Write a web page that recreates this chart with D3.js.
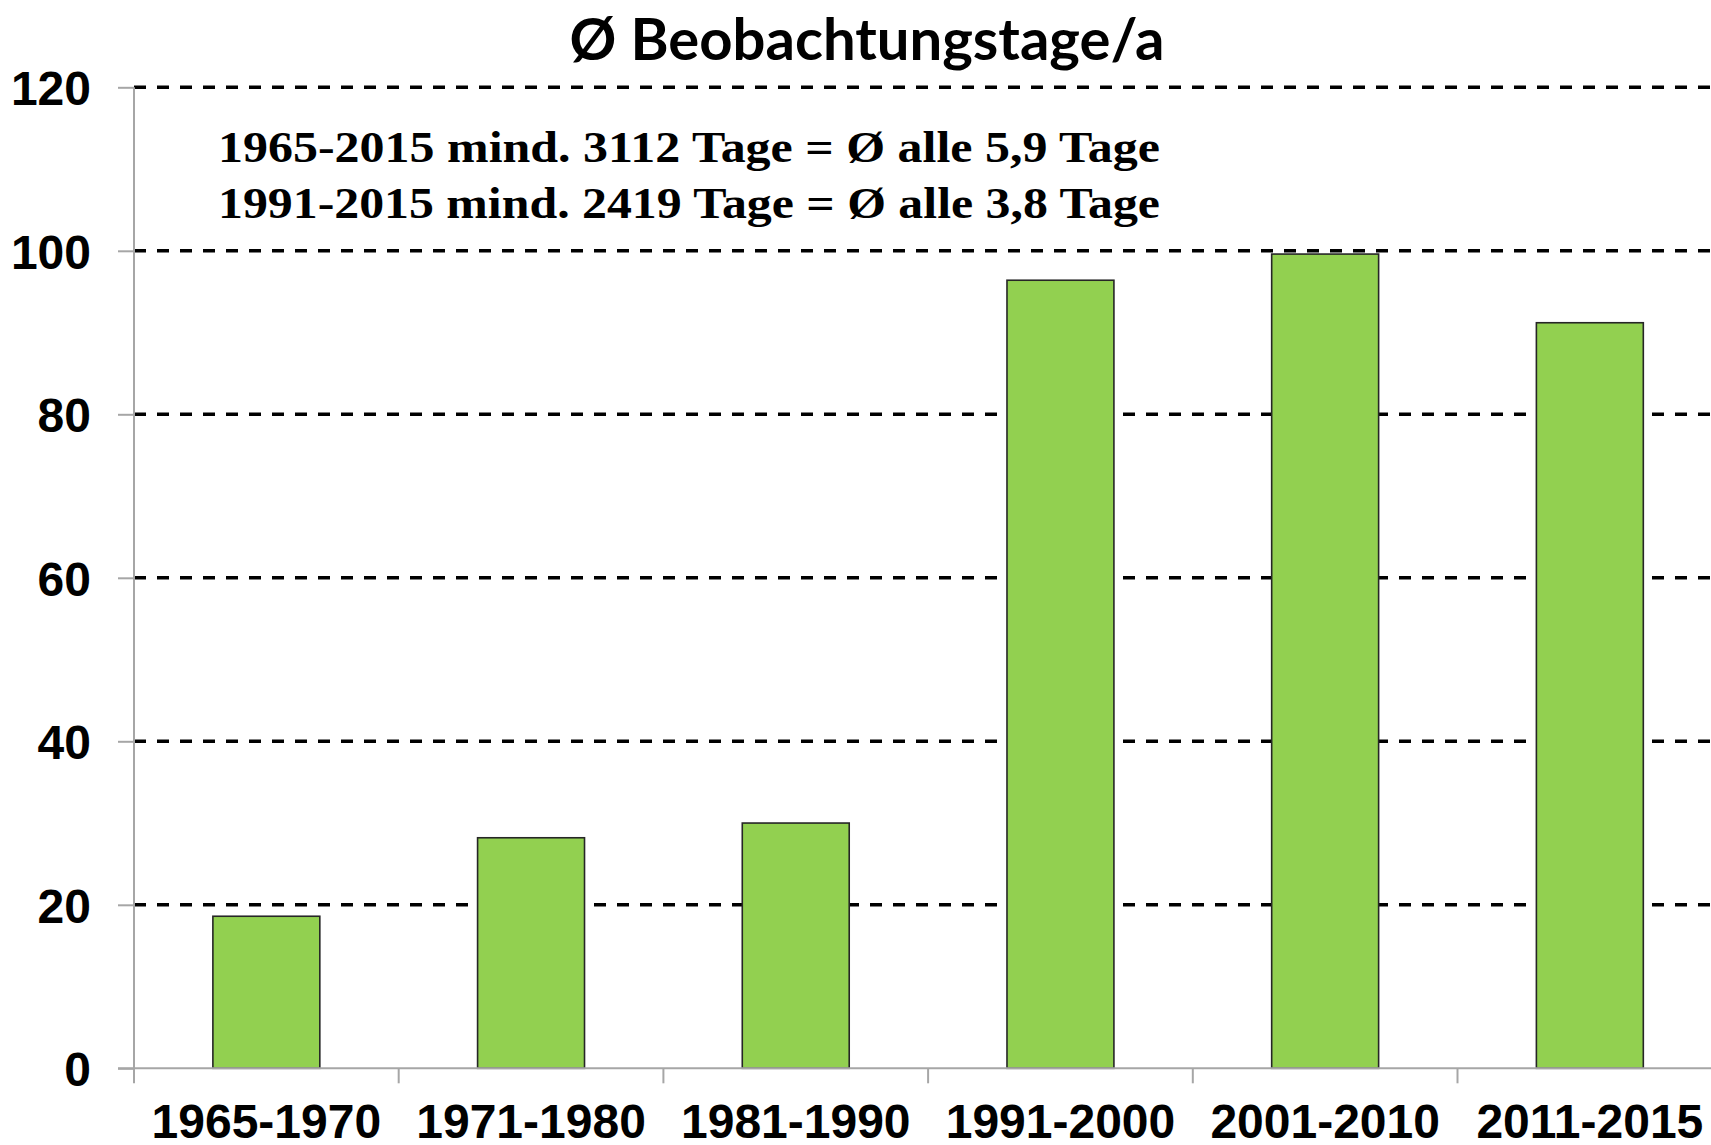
<!DOCTYPE html>
<html>
<head>
<meta charset="utf-8">
<script src="https://cdn.jsdelivr.net/npm/d3@7"></script>
<style>
  body { margin: 0; background: #fff; }
  svg { display: block; }
</style>
</head>
<body>
<script>
const W = 1711
const H = 1145

// data
const categories = ['1965-1970', '1971-1980', '1981-1990', '1991-2000', '2001-2010', '2011-2015']
const values = [18.6, 28.2, 30.0, 96.4, 99.6, 91.2]
const yTicks = [0, 20, 40, 60, 80, 100, 120]
const title = 'Ø Beobachtungstage/a'
const notes = [
  '1965-2015 mind. 3112 Tage = Ø alle 5,9 Tage',
  '1991-2015 mind. 2419 Tage = Ø alle 3,8 Tage'
]

const plotLeft = 134, plotTop = 87.3, plotBottom = 1068.3
const step = 264.7

const x = d3.scaleBand()
  .domain(categories)
  .range([plotLeft, plotLeft + step * categories.length])
  .paddingInner(0.596)
  .paddingOuter(0.298)

const y = d3.scaleLinear()
  .domain([0, 120])
  .range([plotBottom, plotTop])

const svg = d3.select('body').append('svg')
  .attr('width', W)
  .attr('height', H)

// dashed gridlines (behind the bars)
svg.append('g')
  .attr('id', 'grid')
  .selectAll('line')
  .data(yTicks.filter(d => d > 0))
  .enter()
  .append('line')
  .attr('x1', plotLeft)
  .attr('x2', W)
  .attr('y1', d => y(d))
  .attr('y2', d => y(d))
  .attr('stroke', '#000')
  .attr('stroke-width', 3.5)
  .attr('stroke-dasharray', '12,11')

// bars
svg.append('g')
  .attr('id', 'bars')
  .selectAll('rect')
  .data(values)
  .enter()
  .append('rect')
  .attr('x', (d, i) => x(categories[i]))
  .attr('y', d => y(d))
  .attr('width', x.bandwidth())
  .attr('height', d => y(0) - y(d))
  .attr('fill', '#92d050')
  .attr('stroke', '#262626')
  .attr('stroke-width', 1.6)

// y axis
const yAxis = svg.append('g')
  .attr('id', 'y-axis')
  .attr('transform', `translate(${plotLeft},0)`)
  .call(d3.axisLeft(y).tickValues(yTicks).tickSize(16).tickSizeOuter(0).tickPadding(27))
yAxis.select('.domain').remove()
yAxis.selectAll('.tick line').attr('stroke', '#a6a6a6').attr('stroke-width', 2)
yAxis.selectAll('.tick text')
  .attr('font-family', '"Liberation Sans", Arial, sans-serif')
  .attr('font-weight', 'bold')
  .attr('font-size', '48px')
  .attr('fill', '#000')
  .attr('dy', '0.36em')
yAxis.append('line')
  .attr('x1', 0).attr('x2', 0)
  .attr('y1', plotTop).attr('y2', plotBottom + 15)
  .attr('stroke', '#a6a6a6')
  .attr('stroke-width', 2)

// x axis
const xAxis = svg.append('g')
  .attr('id', 'x-axis')
  .attr('transform', `translate(0,${plotBottom})`)
  .call(d3.axisBottom(x).tickSize(0).tickPadding(36))
xAxis.select('.domain').remove()
xAxis.append('line')
  .attr('x1', plotLeft - 16).attr('x2', W)
  .attr('y1', 0).attr('y2', 0)
  .attr('stroke', '#a6a6a6')
  .attr('stroke-width', 2)
xAxis.selectAll('.sep')
  .data(categories.slice(1))
  .enter()
  .append('line')
  .attr('class', 'sep')
  .attr('x1', d => x(d) - (x.step() - x.bandwidth()) / 2)
  .attr('x2', d => x(d) - (x.step() - x.bandwidth()) / 2)
  .attr('y1', 0)
  .attr('y2', 15)
  .attr('stroke', '#a6a6a6')
  .attr('stroke-width', 2)
xAxis.selectAll('.tick text')
  .attr('font-family', '"Liberation Sans", Arial, sans-serif')
  .attr('font-weight', 'bold')
  .attr('font-size', '48px')
  .attr('fill', '#000')

// title
svg.append('text')
  .attr('x', 867)
  .attr('y', 60)
  .attr('text-anchor', 'middle')
  .attr('font-family', 'Lato, "Open Sans", sans-serif')
  .attr('font-weight', 'bold')
  .attr('font-size', '58px')
  .text(title)

// annotation
svg.append('g')
  .attr('id', 'notes')
  .selectAll('text')
  .data(notes)
  .enter()
  .append('text')
  .attr('x', 218)
  .attr('y', (d, i) => 162 + i * 56)
  .attr('font-family', '"Liberation Serif", "Times New Roman", serif')
  .attr('font-weight', 'bold')
  .attr('font-size', '44px')
  .attr('textLength', 942)
  .attr('lengthAdjust', 'spacingAndGlyphs')
  .text(d => d)
</script>
</body>
</html>
